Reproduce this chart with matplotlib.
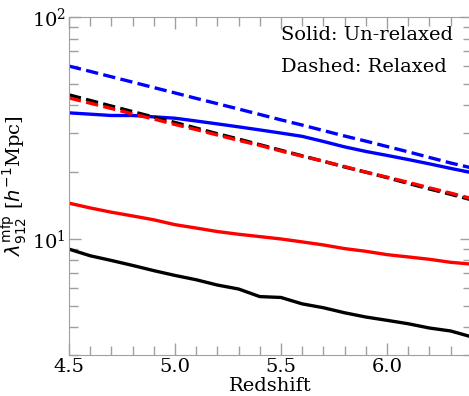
import matplotlib
matplotlib.use("Agg")
import matplotlib.pyplot as plt
import numpy as np

# redshift grid
z = [4.5, 4.6, 4.7, 4.8, 4.9, 5.0, 5.1, 5.2, 5.3, 5.4,
     5.5, 5.6, 5.7, 5.8, 5.9, 6.0, 6.1, 6.2, 6.3, 6.4]

# un-relaxed (solid)
mfp_black = [9.0, 8.4, 8.0, 7.6, 7.2, 6.85, 6.55, 6.2, 5.95, 5.5,
             5.45, 5.1, 4.9, 4.65, 4.45, 4.3, 4.15, 3.97, 3.85, 3.62]
mfp_red = [14.5, 13.8, 13.2, 12.7, 12.2, 11.6, 11.2, 10.8, 10.5, 10.25,
           10.0, 9.7, 9.4, 9.05, 8.8, 8.5, 8.3, 8.1, 7.85, 7.7]
mfp_blue = [37.0, 36.5, 36.0, 36.0, 35.5, 35.0, 34.0, 33.0, 32.0, 31.0,
            30.0, 29.0, 27.5, 26.0, 24.8, 23.8, 22.8, 21.8, 20.8, 19.9]

# relaxed (dashed)
mfp_black_rel = [44.6, 42.1, 39.7, 37.5, 35.4, 33.5, 31.6, 29.8, 28.2, 26.6,
                 25.1, 23.7, 22.4, 21.1, 20.0, 18.9, 17.8, 16.8, 15.9, 15.0]
mfp_red_rel = [43.2, 40.9, 38.7, 36.6, 34.7, 32.8, 31.1, 29.4, 27.8, 26.4,
               24.9, 23.6, 22.4, 21.2, 20.0, 19.0, 18.0, 17.0, 16.1, 15.2]
mfp_blue_rel = [60.1, 56.9, 53.8, 50.9, 48.1, 45.5, 43.0, 40.7, 38.5, 36.4,
                34.4, 32.6, 30.8, 29.1, 27.6, 26.1, 24.7, 23.3, 22.0, 20.9]

plt.rcParams['font.family'] = 'DejaVu Serif'
plt.rcParams['mathtext.fontset'] = 'dejavusans'
plt.rcParams['font.size'] = 14

fig = plt.figure(figsize=(4.69, 3.96), dpi=100)
ax = fig.add_axes([0.1471, 0.1035, 0.8588, 0.8535])

lw = 2.4
ax.plot(z, mfp_black, color='black', lw=lw)
ax.plot(z, mfp_red, color='red', lw=lw)
ax.plot(z, mfp_blue, color='blue', lw=lw)
ax.plot(z, mfp_black_rel, color='black', lw=lw, ls='--')
ax.plot(z, mfp_red_rel, color='red', lw=lw, ls='--')
ax.plot(z, mfp_blue_rel, color='blue', lw=lw, ls='--')

ax.set_yscale('log')
ax.set_xlim(4.5, 6.4)
ax.set_ylim(3, 100)
ax.set_xticks([4.5, 5.0, 5.5, 6.0])
ax.set_xticks(np.arange(4.5, 6.41, 0.1), minor=True)

edge = '#a0a0a0'
for s in ax.spines.values():
    s.set_color(edge)
ax.tick_params(which='both', direction='in', top=True, right=True,
               color=edge, labelsize=14, pad=2)
ax.tick_params(which='major', length=8.5, width=1)
ax.tick_params(which='minor', length=6.5, width=1)

ax.set_xlabel('Redshift', fontsize=14, labelpad=1)
ax.set_ylabel(r'$\lambda_{912}^{\rm mfp}$ [$h^{-1}$Mpc]', fontsize=14, labelpad=2)

ax.text(0.526, 0.932, 'Solid: Un-relaxed', transform=ax.transAxes,
        fontsize=14, va='baseline', ha='left')
ax.text(0.526, 0.837, 'Dashed: Relaxed', transform=ax.transAxes,
        fontsize=14, va='baseline', ha='left')

fig.savefig('out.png', dpi=100)
